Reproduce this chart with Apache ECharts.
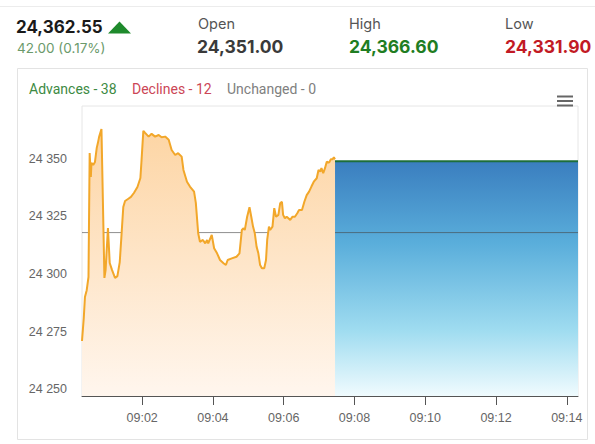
<!DOCTYPE html>
<html><head><meta charset="utf-8">
<script src="https://cdn.jsdelivr.net/npm/echarts@6/dist/echarts.min.js"></script>
<style>html,body{margin:0;padding:0;background:#fff}#c{width:595px;height:444px}</style>
</head><body><div id="c"></div>
<script>
const times = ["09:00:18","09:00:21","09:00:23","09:00:26","09:00:29","09:00:31","09:00:33","09:00:34","09:00:37","09:00:40",
"09:00:43","09:00:45","09:00:47","09:00:51","09:00:56","09:00:58","09:01:02","09:01:05","09:01:09","09:01:14",
"09:01:18","09:01:22","09:01:25","09:01:28","09:01:31","09:01:36","09:01:41","09:01:46","09:01:52","09:01:57",
"09:01:59","09:02:02","09:02:05","09:02:11","09:02:16","09:02:22","09:02:28","09:02:33","09:02:39","09:02:45",
"09:02:50","09:02:56","09:03:01","09:03:07","09:03:10","09:03:16","09:03:21","09:03:28","09:03:31","09:03:35",
"09:03:38","09:03:43","09:03:47","09:03:50","09:03:52","09:03:58","09:04:02","09:04:07","09:04:12","09:04:18",
"09:04:22","09:04:25","09:04:32","09:04:40","09:04:45","09:04:49","09:04:52","09:04:54","09:04:58","09:05:02",
"09:05:05","09:05:08","09:05:11","09:05:14","09:05:17","09:05:20","09:05:23","09:05:27","09:05:30","09:05:32",
"09:05:35","09:05:37","09:05:41","09:05:44","09:05:47","09:05:51","09:05:54","09:05:57","09:05:59","09:06:02",
"09:06:05","09:06:08","09:06:11","09:06:15","09:06:19","09:06:23","09:06:26","09:06:31","09:06:35","09:06:39",
"09:06:43","09:06:47","09:06:51","09:06:56","09:06:59","09:07:02","09:07:04","09:07:07","09:07:10","09:07:13",
"09:07:17","09:07:20","09:07:23","09:07:25","09:07:27"];
const prices = [24270.9,24280.9,24290.0,24293.0,24298.7,24352.6,24342.2,24348.3,24347.4,24348.7,
24354.8,24357.0,24359.6,24363.0,24298.3,24301.7,24320.0,24304.8,24301.7,24298.3,
24299.1,24305.2,24317.0,24329.1,24331.7,24332.6,24333.5,24335.2,24337.8,24341.7,
24349.6,24362.2,24361.3,24359.7,24360.9,24359.7,24360.4,24359.4,24359.7,24358.3,
24353.9,24351.7,24352.5,24351.0,24345.2,24340.1,24338.0,24335.8,24330.9,24317.7,
24314.0,24314.8,24313.3,24314.8,24313.3,24317.0,24311.2,24309.0,24306.1,24304.7,
24303.9,24306.1,24306.8,24307.5,24309.0,24319.1,24319.9,24319.1,24324.9,24329.0,
24324.9,24320.6,24317.7,24311.9,24309.0,24303.9,24302.5,24302.5,24306.1,24314.8,
24320.6,24319.1,24320.6,24328.6,24324.9,24325.7,24330.7,24331.4,24325.7,24324.2,
24324.9,24324.2,24323.5,24324.9,24324.9,24326.4,24327.8,24327.8,24331.4,24334.3,
24335.8,24338.0,24340.1,24341.6,24345.2,24344.5,24346.0,24343.8,24346.0,24348.8,
24348.4,24349.9,24349.9,24350.7,24349.9];
const futureTimes = ["09:07:27","09:14:19"];
const futureLevel = 24349;
const prevCloseLevel = 24318;
const axisStart = "09:00:18";
const axisEnd = "09:14:19";
const xTickLabels = ["09:02","09:04","09:06","09:08","09:10","09:12","09:14"];
const yTickLabels = [24250,24275,24300,24325,24350];
const yMin = 24247, yMax = 24373;
const lastPrice = "24,362.55";
const changeText = "42.00 (0.17%)";
const openPrice = "24,351.00";
const highPrice = "24,366.60";
const lowPrice = "24,331.90";
const advances = 38, declines = 12, unchanged = 0;

function toSec(s){const p=s.split(':').map(Number);return (p[0]-9)*3600+p[1]*60+(p[2]||0);}
function pad(n){return (n<10?'0':'')+n;}

const mainData = times.map((t,i)=>[toSec(t),prices[i]]);
const futureData = futureTimes.map(t=>[toSec(t),futureLevel]);
const prevData = [[toSec(axisStart),prevCloseLevel],[toSec(axisEnd),prevCloseLevel]];
const xTicks = xTickLabels.map(toSec);

const chart = echarts.init(document.getElementById('c'), null, {renderer:'svg'});
const hf = 'Inter, "Open Sans", sans-serif';
function txt(x,y,text,size,weight,color,family){
  return {type:'text',x:x,y:y,silent:true,style:{text:text,font:weight+' '+size+'px '+(family||hf),fill:color,verticalAlign:'middle',align:'left'}};
}
chart.setOption({
  animation:false,
  backgroundColor:'#fff',
  grid:{left:82,top:106,right:17,bottom:48,show:true,borderColor:'#e6e6e6',borderWidth:1,backgroundColor:'transparent'},
  xAxis:{type:'value',min:toSec(axisStart),max:toSec(axisEnd),
    axisLine:{show:true,lineStyle:{color:'#555',width:1}},
    axisTick:{show:true,customValues:xTicks,length:9,lineStyle:{color:'#555'}},
    axisLabel:{customValues:xTicks,color:'#666',fontSize:12.5,fontFamily:'"Liberation Sans", Arial, sans-serif',margin:15,
      formatter:v=>'09:'+pad(Math.floor(v/60))},
    splitLine:{show:false}},
  yAxis:{type:'value',min:yMin,max:yMax,
    axisLine:{show:false},axisTick:{show:false,customValues:yTickLabels},
    axisLabel:{customValues:yTickLabels,color:'#666',fontSize:12.5,fontFamily:'"Liberation Sans", Arial, sans-serif',margin:15,
      formatter:v=>String(v).replace(/(\d{2})(\d{3})$/,'$1 $2')},
    splitLine:{show:false}},
  series:[
    {type:'line',data:futureData,symbol:'none',z:1,
      lineStyle:{color:'#1d6e3b',width:2},
      areaStyle:{origin:'start',opacity:1,color:new echarts.graphic.LinearGradient(0,0,0,1,[
        {offset:0,color:'#3a7ebf'},{offset:0.35,color:'#5aaedb'},{offset:0.72,color:'#9fdcf0'},{offset:1,color:'#f0fbfe'}])}},
    {type:'line',data:prevData,symbol:'none',z:2,lineStyle:{color:'rgba(70,70,70,0.6)',width:1}},
    {type:'line',data:mainData,symbol:'none',z:3,
      lineStyle:{color:'#f2a72a',width:2},
      areaStyle:{origin:'start',opacity:1,color:new echarts.graphic.LinearGradient(0,0,0,1,[
        {offset:0,color:'#fdd5a4'},{offset:1,color:'#fff6ee'}])}}
  ],
  graphic:[
    {type:'rect',shape:{x:0,y:6,width:595,height:1},style:{fill:'#ececec'},silent:true},
    {type:'rect',shape:{x:17.5,y:68.5,width:570,height:371},style:{fill:'none',stroke:'#e3e3e3',lineWidth:1},silent:true},
    txt(16,27,lastPrice,17,'700','#1a1a1a'),
    {type:'polygon',shape:{points:[[108,33.5],[131,33.5],[119.5,21.5]]},style:{fill:'#1e8a2c'},silent:true},
    txt(17,47.5,changeText,13.5,'400','#6b9a6b'),
    txt(198,23,'Open',14.5,'400','#555'),
    txt(197,46,openPrice,17.5,'700','#3a3a3a'),
    txt(349,23,'High',14.5,'400','#555'),
    txt(349,46,highPrice,17.5,'700','#1f7d22'),
    txt(505,23,'Low',14.5,'400','#555'),
    txt(505,46,lowPrice,17.5,'700','#c21a24'),
    txt(29,89,'Advances - '+advances,14,'400','#3d8a43','Roboto, sans-serif'),
    txt(132,89,'Declines - '+declines,14,'400','#cc4656','Roboto, sans-serif'),
    txt(227,89,'Unchanged - '+unchanged,14,'400','#808080','Roboto, sans-serif'),
    {type:'rect',shape:{x:557,y:95.5,width:16,height:2},style:{fill:'#666'},silent:true,z:100},
    {type:'rect',shape:{x:557,y:100,width:16,height:2},style:{fill:'#666'},silent:true,z:100},
    {type:'rect',shape:{x:557,y:104.5,width:16,height:2},style:{fill:'#666'},silent:true,z:100}
  ]
});
</script></body></html>
